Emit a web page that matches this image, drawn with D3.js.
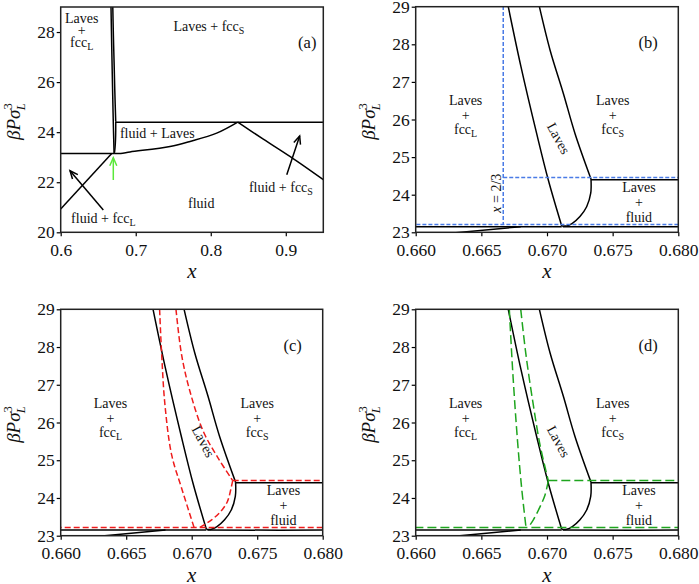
<!DOCTYPE html>
<html>
<head>
<meta charset="utf-8">
<script src="https://cdn.jsdelivr.net/npm/d3@7"></script>
<style>
body { margin: 0; background: #fff; }
svg text { font-family: "Liberation Serif", serif; fill: #111; }
</style>
</head>
<body>
<svg id="chart" width="699" height="584"></svg>
<script>
// black: phase boundaries, points are [x, beta P sigma_L^3]
const lavesLeft = [[0.66705, 29], [0.66802, 27.40], [0.66921, 25.63], [0.67010, 24.39], [0.67112, 23.17]];
const lavesRight = [[0.66942, 29], [0.67023, 27.85], [0.67124, 26.70], [0.67213, 25.63], [0.67335, 24.42]];
const lavesFluid = [[0.67335, 24.42], [0.67333, 24.04], [0.67302, 23.68], [0.67251, 23.42], [0.67193, 23.24], [0.67150, 23.17], [0.67112, 23.17]];
const fluidLaves = [[0.6712, 23.15], [0.68, 23.15], [0.6924, 23.21], [0.7457, 23.43], [0.7724, 23.63], [0.8079, 23.96], [0.836, 24.4]];
const fluidFccS = [[0.836, 24.4], [0.87, 23.72], [0.906, 23.02], [0.95, 22.1]];
const fluidFccL = [[0.6, 20.93], [0.668, 23.15]];
const tripleLow = 23.15;
const tripleHigh = 24.4;

// red dashed (panel c)
const redLeft = [[0.66755, 29], [0.66771, 27.79], [0.66796, 26.46], [0.66847, 25.14], [0.66923, 24.26], [0.67018, 23.22]];
const redRight = [[0.66880, 29], [0.66923, 27.79], [0.66987, 26.82], [0.67089, 25.76], [0.67203, 25.05], [0.67313, 24.46]];
const redFluid = [[0.67313, 24.46], [0.67303, 24.30], [0.67272, 23.90], [0.67221, 23.64], [0.67152, 23.42], [0.67063, 23.22]];
const redLow = 23.22, redHigh = 24.46;

// green dashed (panel d)
const greenLeft = [[0.66713, 29], [0.66739, 27.35], [0.66774, 25.58], [0.66807, 24.26], [0.66840, 23.22]];
const greenRight = [[0.66800, 29], [0.66840, 27.79], [0.66896, 26.46], [0.66947, 25.40], [0.67010, 24.46]];
const greenFluid = [[0.67010, 24.46], [0.66985, 24.08], [0.66942, 23.73], [0.66896, 23.42], [0.66858, 23.22]];
const greenLow = 23.22, greenHigh = 24.46;

// blue guides (panel b)
const guideX = 2 / 3;
const guideLow = 23.21, guideHigh = 24.46;

// ticks
const ticksXa = [0.6, 0.7, 0.8, 0.9];
const ticksYa = [20, 22, 24, 26, 28];
const ticksXz = [0.660, 0.665, 0.670, 0.675, 0.680];
const ticksYz = [23, 24, 25, 26, 27, 28, 29];

// arrows in panel (a)
const arrowsA = [
    { from: [0.6568, 20.89], to: [0.6124, 22.46], color: "#000" },
    { from: [0.9013, 22.3], to: [0.9185, 23.85], color: "#000" },
    { from: [0.6701, 22.09], to: [0.6701, 22.98], color: "#5ae83a" },
];

// region labels: [text, sub, x, y]
const labelsA = [
    ["Laves", "", 0.628, 28.58],
    ["+", "", 0.628, 28.07],
    ["fcc", "L", 0.628, 27.6],
    ["Laves + fcc", "S", 0.7975, 28.25],
    ["fluid + Laves", "", 0.7287, 23.96],
    ["fluid + fcc", "S", 0.8935, 21.8],
    ["fluid", "", 0.7873, 21.16],
    ["fluid + fcc", "L", 0.6569, 20.56],
];
const labelsZ = [
    ["Laves", "", 0.6638, 26.52],
    ["+", "", 0.6638, 26.12],
    ["fcc", "L", 0.6638, 25.76],
    ["Laves", "", 0.6750, 26.52],
    ["+", "", 0.6750, 26.12],
    ["fcc", "S", 0.6750, 25.76],
    ["Laves", "", 0.6770, 24.21],
    ["+", "", 0.6770, 23.81],
    ["fluid", "", 0.6770, 23.41],
];

const svg = d3.select("#chart");
const black = "#000";
const serif = '"Liberation Serif", serif';

// arrow heads
const defs = svg.append("defs");
function addMarker(id, color) {
    defs.append("marker")
        .attr("id", id)
        .attr("markerUnits", "userSpaceOnUse")
        .attr("viewBox", "-10 -6 12 12")
        .attr("markerWidth", 12)
        .attr("markerHeight", 12)
        .attr("refX", 0)
        .attr("refY", 0)
        .attr("orient", "auto")
        .append("path")
        .attr("d", "M-8,-3.5L0,0L-8,3.5")
        .attr("fill", "none")
        .attr("stroke", color)
        .attr("stroke-width", 1.5);
}

function panel(opt) {
    const x = d3.scaleLinear().domain(opt.xd).range([opt.l, opt.r]);
    const y = d3.scaleLinear().domain(opt.yd).range([opt.b, opt.t]);
    const g = svg.append("g");

    const clipId = "clip-" + opt.name;
    defs.append("clipPath").attr("id", clipId)
        .append("rect")
        .attr("x", opt.l).attr("y", opt.t)
        .attr("width", opt.r - opt.l).attr("height", opt.b - opt.t);

    const plot = g.append("g").attr("clip-path", `url(#${clipId})`);
    const line = d3.line().x((d) => x(d[0])).y((d) => y(d[1])).curve(d3.curveCatmullRom.alpha(0.5));

    function draw(data, color, dash, w = 1.5) {
        plot.append("path")
            .datum(data)
            .attr("d", line)
            .attr("fill", "none")
            .attr("stroke", color)
            .attr("stroke-width", w)
            .attr("stroke-dasharray", dash);
    }

    // black phase diagram
    const lastL = lavesLeft[lavesLeft.length - 1];
    const lastR = lavesRight[lavesRight.length - 1];
    draw([[0.55, tripleLow], [lastL[0], tripleLow]], black, null);
    draw(fluidLaves, black, null);
    draw(fluidFccS, black, null);
    draw(fluidFccL, black, null);
    draw([[lastR[0], tripleHigh], [1, tripleHigh]], black, null);
    draw(lavesLeft, black, null);
    draw(lavesRight, black, null);
    draw(lavesFluid, black, null);

    if (opt.overlay) {
        const o = opt.overlay;
        draw([[0.65, o.low], [0.69, o.low]], o.color, o.dash);
        draw([[o.right[o.right.length - 1][0], o.high], [0.69, o.high]], o.color, o.dash);
        draw(o.left, o.color, o.dash);
        draw(o.right, o.color, o.dash);
        draw(o.fluid, o.color, o.dash);
    }
    if (opt.guides) {
        const c = "#4a7be6", dash = "4,2";
        draw([[guideX, 29.5], [guideX, guideLow]], c, dash);
        draw([[guideX, guideHigh], [0.69, guideHigh]], c, dash);
        draw([[0.65, guideLow], [0.69, guideLow]], c, dash);
        g.append("text")
            .attr("transform", `translate(${x(0.66617) + 4},${y(24.04)}) rotate(-90)`)
            .attr("text-anchor", "middle")
            .style("font-size", "14px")
            .html('<tspan font-style="italic">x</tspan> = 2/3');
    }
    if (opt.arrows) {
        opt.arrows.forEach((a, i) => {
            const id = `arrow-${opt.name}-${i}`;
            addMarker(id, a.color);
            g.append("line")
                .attr("x1", x(a.from[0])).attr("y1", y(a.from[1]))
                .attr("x2", x(a.to[0])).attr("y2", y(a.to[1]))
                .attr("stroke", a.color)
                .attr("stroke-width", 1.5)
                .attr("marker-end", `url(#${id})`);
        });
    }

    // region labels
    opt.labels.forEach((d) => {
        const t = g.append("text")
            .attr("x", x(d[2])).attr("y", y(d[3]) + 5)
            .attr("text-anchor", "middle")
            .style("font-size", "14px")
            .text(d[0]);
        if (d[1]) {
            t.append("tspan").attr("dy", 3).style("font-size", "10px").text(d[1]);
        }
    });
    if (opt.rotLabel) {
        g.append("text")
            .attr("transform", `translate(${x(0.6709)},${y(25.5)}) rotate(62)`)
            .attr("text-anchor", "middle")
            .attr("dy", 5)
            .style("font-size", "14px")
            .text("Laves");
    }
    g.append("text")
        .attr("x", x(opt.tag[1])).attr("y", y(opt.tag[2]) + 6)
        .attr("text-anchor", "middle")
        .style("font-size", "16.5px")
        .text(opt.tag[0]);

    // axes
    const ax = g.append("g")
        .attr("transform", `translate(0,${opt.b})`)
        .call(d3.axisBottom(x).tickValues(opt.xt).tickFormat(d3.format(opt.xf)).tickSizeOuter(0).tickSize(4));
    const ay = g.append("g")
        .attr("transform", `translate(${opt.l},0)`)
        .call(d3.axisLeft(y).tickValues(opt.yt).tickFormat(d3.format("d")).tickSizeOuter(0).tickSize(4));
    [ax, ay].forEach((a) => {
        a.attr("font-family", serif).attr("font-size", null);
        a.select(".domain").remove();
        a.selectAll("line").attr("stroke", black).attr("stroke-width", 1.2);
        a.selectAll("text").style("font-family", serif).style("font-size", "17.5px").attr("fill", "#111");
    });
    ax.selectAll("text").attr("dy", "0.95em");
    ay.selectAll("text").attr("x", -6);

    g.append("rect")
        .attr("x", opt.l).attr("y", opt.t)
        .attr("width", opt.r - opt.l).attr("height", opt.b - opt.t)
        .attr("fill", "none")
        .attr("stroke", "#222")
        .attr("stroke-width", 1.5);

    // axis titles
    g.append("text")
        .attr("x", (opt.l + opt.r) / 2).attr("y", opt.b + 46)
        .attr("text-anchor", "middle")
        .style("font-size", "21px")
        .style("font-style", "italic")
        .text("x");
    const yl = g.append("text")
        .attr("transform", `translate(${opt.l - 41},${(opt.t + opt.b) / 2 + 2}) rotate(-90)`)
        .attr("text-anchor", "middle")
        .style("font-size", "19px")
        .style("font-style", "italic");
    yl.append("tspan").text("βPσ");
    yl.append("tspan").attr("dy", -8).style("font-size", "12.5px").style("font-style", "normal").text("3");
    yl.append("tspan").attr("dx", -7).attr("dy", 13).style("font-size", "12.5px").text("L");
}

const zoomOpt = { xd: [0.66, 0.68], yd: [23, 29], xt: ticksXz, yt: ticksYz, xf: ".3f", labels: labelsZ, rotLabel: true };

panel({ name: "a", xd: [0.6, 0.95], yd: [20, 29], l: 60.7, r: 323.3, t: 7, b: 232.3,
    xt: ticksXa, yt: ticksYa, xf: ".1f", labels: labelsA, arrows: arrowsA, tag: ["(a)", 0.9286, 27.6] });
panel(Object.assign({ name: "b", l: 415.7, r: 678.3, t: 6.7, b: 232.3, guides: true, tag: ["(b)", 0.6777, 28.05] }, zoomOpt));
panel(Object.assign({ name: "c", l: 60.7, r: 322.7, t: 309.3, b: 535.7, tag: ["(c)", 0.6777, 28.05],
    overlay: { left: redLeft, right: redRight, fluid: redFluid, low: redLow, high: redHigh, color: "#ee1c1c", dash: "6,3" } }, zoomOpt));
panel(Object.assign({ name: "d", l: 415.7, r: 678.3, t: 309.3, b: 535.7, tag: ["(d)", 0.6777, 28.05],
    overlay: { left: greenLeft, right: greenRight, fluid: greenFluid, low: greenLow, high: greenHigh, color: "#1ea51e", dash: "9,4" } }, zoomOpt));
</script>
</body>
</html>
